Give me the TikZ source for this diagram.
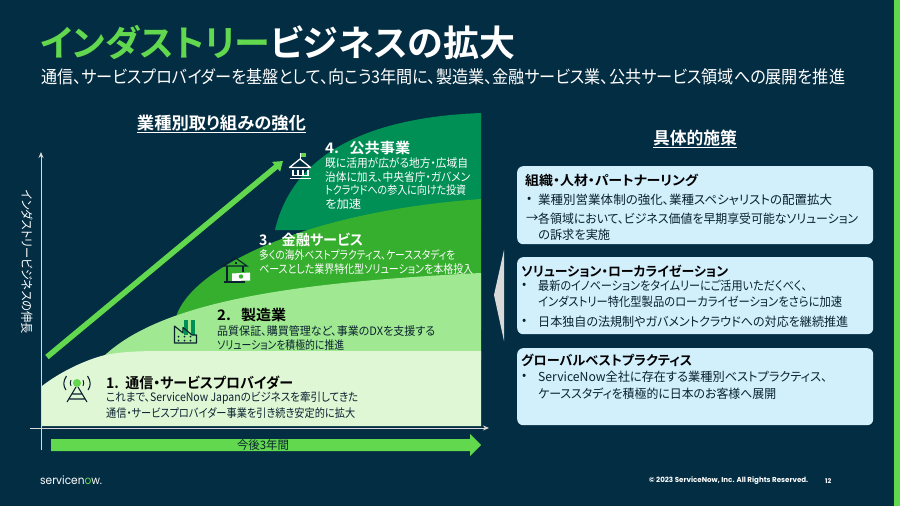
\documentclass[tikz,border=0pt]{standalone}
\usepackage{fontspec}
\usepackage{graphicx}
\setmainfont[BoldFont={Noto Sans CJK JP Bold},RawFeature=+palt]{Noto Sans CJK JP}
\newfontfamily\latinfont{Poppins}
\newcommand{\fitw}[2]{\resizebox{#1pt}{\height}{#2}}
\definecolor{bgnavy}{HTML}{032D42}
\definecolor{sngreen}{HTML}{62D84E}
\definecolor{lay1}{HTML}{E0F7D6}
\definecolor{lay2}{HTML}{A0E891}
\definecolor{lay3}{HTML}{36AE2E}
\definecolor{lay4}{HTML}{008F55}
\definecolor{boxblue}{HTML}{D2EFFC}
\definecolor{inkdark}{HTML}{0A2230}
\definecolor{axisgray}{HTML}{D9D9D9}
\usetikzlibrary{arrows.meta}
\tikzset{
  lbl/.style={inner sep=0pt,anchor=west,font=\fontsize{11.6}{13}\selectfont,text=white},
  lblhead/.style={lbl,font=\bfseries\fontsize{14.5}{16}\selectfont},
  darklbl/.style={lbl,text=inkdark},
  darkhead/.style={lblhead,text=black},
  boxtxt/.style={lbl,text=inkdark,font=\fontsize{12.4}{14}\selectfont},
  boxhead/.style={lbl,text=black,font=\bfseries\fontsize{13.2}{15}\selectfont},
  infobox/.style={fill=boxblue,rounded corners=6pt,draw=none},
  iconline/.style={draw=inkdark,line width=1.1pt,fill=none},
  axisline/.style={draw=axisgray,line width=1pt,-{Stealth[length=6pt,width=5pt]}},
}
\begin{document}
\begin{tikzpicture}[x=1pt,y=-1pt]
\useasboundingbox (0,0) rectangle (900,506);
\fill[bgnavy] (0,0) rectangle (900,506);
\fill[sngreen] (894,0) rectangle (900,506);
% layers
\fill[lay4] (275,230) .. controls (290,165) and (350,118) .. (481,113) -- (481,230) -- cycle;
\fill[lay3] (176,317) .. controls (190,270) and (300,212) .. (481,199) -- (481,330) -- (176,330) -- cycle;
\fill[lay2] (105,355) .. controls (165,300) and (300,282) .. (481,273) -- (481,360) -- (105,360) -- cycle;
\fill[lay1] (42,386) .. controls (60,372) and (85,360) .. (105,355) .. controls (120,352) and (135,351) .. (165,351) -- (481,351) -- (481,426) -- (42,426) -- cycle;
% axes
\coordinate (yaxS) at (41,450); \coordinate (yaxE) at (41,152);
\coordinate (xaxS) at (30,428); \coordinate (xaxE) at (489,428);
\draw[axisline] (yaxS) -- (yaxE);
\draw[axisline] (xaxS) -- (xaxE);
% growth arrow
\coordinate (grS) at (47,357); \coordinate (grE) at (283,161);
\draw[sngreen,line width=5.5pt,-{Triangle[length=9pt,width=12pt]}] (grS) -- (grE);
% time arrow
\fill[sngreen] (51,439) -- (470,439) -- (470,434) -- (481,445) -- (470,456) -- (470,451) -- (51,451) -- cycle;
\node[lbl,anchor=center,text=inkdark] (timelbl) at (263,445) {\fitw{52}{今後3年間}};
% titles
\node[lbl,font=\bfseries\fontsize{36}{40}\selectfont] (title) at (40,43) {\textcolor{sngreen}{インダストリー}ビジネスの拡大};
\node[lbl,font=\fontsize{17.5}{20}\selectfont] (subtitle) at (41,77) {\fitw{804}{通信、サービスプロバイダーを基盤として、向こう3年間に、製造業、金融サービス業、公共サービス領域への展開を推進}};
\node[lbl,anchor=center,font=\bfseries\fontsize{17}{18}\selectfont] (lefthead) at (221.5,124) {\underline{\fitw{169}{業種別取り組みの強化}}};
\node[lbl,anchor=center,font=\bfseries\fontsize{17}{18}\selectfont] (righthead) at (695,139) {\underline{\fitw{84}{具体的施策}}};
\node[lbl,anchor=center,rotate=-90,font=\fontsize{12.5}{14}\selectfont] (ylabel) at (27,262) {\fitw{144}{インダストリービジネスの伸長}};
% layer text
\node[lblhead] (h4) at (325,148) {\fitw{85}{4.\ \ \ 公共事業}};
\node[lbl] (b41) at (325,163) {\fitw{143}{既に活用が広がる地方・広域自}};
\node[lbl] (b42) at (325,177) {\fitw{145}{治体に加え、中央省庁・ガバメン}};
\node[lbl] (b43) at (325,190) {\fitw{141}{トクラウドへの参入に向けた投資}};
\node[lbl] (b44) at (325,204) {\fitw{36}{を加速}};
\node[lblhead] (h3) at (259,240) {\fitw{104}{3.\ \ \ 金融サービス}};
\node[lbl] (b31) at (259,255) {\fitw{196}{多くの海外ベストプラクティス、ケーススタディを}};
\node[lbl] (b32) at (259,269) {\fitw{214}{ベースとした業界特化型ソリューションを本格投入}};
\node[darkhead] (h2) at (217,315) {\fitw{69}{2.\ \ \ 製造業}};
\node[darklbl] (b21) at (217,331) {\fitw{218}{品質保証、購買管理など、事業のDXを支援する}};
\node[darklbl] (b22) at (217,345) {\fitw{127}{ソリューションを積極的に推進}};
\node[darkhead] (h1) at (106,383) {\fitw{187}{1.\ \ 通信・サービスプロバイダー}};
\node[darklbl] (b11) at (106,398) {\fitw{252}{これまで、ServiceNow Japanのビジネスを牽引してきた}};
\node[darklbl] (b12) at (106,413) {\fitw{249}{通信・サービスプロバイダー事業を引き続き安定的に拡大}};
% bank icon
\draw[white,line width=1.3pt,line join=round] (289.5,167.5) -- (300,159) -- (310.5,167.5) -- cycle;
\draw[white,line width=1.3pt] (293,169.5) -- (293,175.5) (298,169.5) -- (298,175.5) (303,169.5) -- (303,175.5) (308,169.5) -- (308,175.5);
\draw[white,line width=1.3pt] (292,175.5) -- (309,175.5) (289.5,178.5) -- (311,178.5);
\draw[white,line width=.8pt] (300.5,159) -- (300.5,153);
\fill[sngreen] (301,153) -- (306,153) -- (306,157) -- (301,157) -- cycle;
% house icon
\draw[iconline] (223,266) -- (235,257.5) -- (247,266) -- cycle;
\draw[iconline] (227,266) -- (227,282);
\draw[iconline] (224,282) -- (245,282);
\draw[iconline] (243,266) -- (243,272);
\fill[white] (232,273.5) -- (250,272.5) -- (250,280.5) -- (232,281) -- cycle;
\fill[lay3] (241,276.5) circle (2.2pt);
\fill[inkdark] (234.5,261.5) rectangle (236.5,263.5);
% factory icon
\fill[lay4] (184,320) rectangle (188,335);
\fill[lay4] (191,320) rectangle (195,335);
\draw[iconline,line join=round] (174.5,343) -- (174.5,326) -- (183,333) -- (183,327.5) -- (192,335) -- (196.5,335) -- (196.5,343) -- cycle;
\foreach \dx in {178.5,184.5,190.5} {\fill[inkdark] (\dx,336.5) circle (1pt); \fill[inkdark] (\dx,340.5) circle (1pt);}
% tower icon
\fill[sngreen] (77,383) circle (4pt);
\draw[iconline] (76,387) -- (67,402) (78,387) -- (87,402) (72.5,394) -- (81.5,394) (69.5,399) -- (84.5,399);
\draw[iconline] (66.5,376) .. controls (63,381) and (63,386) .. (66,390);
\draw[iconline] (87.5,376) .. controls (91,381) and (91,386) .. (88,390);
\draw[iconline,line width=.9pt] (71,380) .. controls (70,382) and (70,384) .. (71,386);
\draw[iconline,line width=.9pt] (83,380) .. controls (84,382) and (84,384) .. (83,386);
% chevron
\fill[axisgray] (504,250) -- (494,295) -- (504,341) -- cycle;
% boxes
\node[infobox,anchor=north west,minimum width=356pt,minimum height=78pt,inner sep=0pt] (box1) at (517,166) {};
\node[infobox,anchor=north west,minimum width=356pt,minimum height=77pt,inner sep=0pt] (box2) at (517,257) {};
\node[infobox,anchor=north west,minimum width=356pt,minimum height=77pt,inner sep=0pt] (box3) at (517,348) {};
\node[boxhead] (t1) at (525,180) {\fitw{173}{組織・人材・パートナーリング}};
\node[boxtxt] (t1b) at (527,200) {•};
\node[boxtxt] (t11) at (538,200) {\fitw{294}{業種別営業体制の強化、業種スペシャリストの配置拡大}};
\node[boxtxt] (t1a) at (526,219) {→};
\node[boxtxt] (t12) at (538,219) {\fitw{320}{各領域において、ビジネス価値を早期享受可能なソリューション}};
\node[boxtxt] (t13) at (538,235) {\fitw{72}{の訴求を実施}};
\node[boxhead] (t2) at (521,271) {\fitw{207}{ソリューション・ローカライゼーション}};
\node[boxtxt] (t2b) at (522,286) {•};
\node[boxtxt] (t21) at (538,286) {\fitw{269}{最新のイノベーションをタイムリーにご活用いただくべく、}};
\node[boxtxt] (t22) at (538,302) {\fitw{304}{インダストリー特化型製品のローカライゼーションをさらに加速}};
\node[boxtxt] (t2c) at (522,322) {•};
\node[boxtxt] (t23) at (538,322) {\fitw{310}{日本独自の法規制やガバメントクラウドへの対応を継続推進}};
\node[boxhead] (t3) at (521,360) {\fitw{171}{グローバルベストプラクティス}};
\node[boxtxt] (t3b) at (522,377) {•};
\node[boxtxt] (t31) at (538,377) {\fitw{289}{ServiceNow全社に存在する業種別ベストプラクティス、}};
\node[boxtxt] (t32) at (538,394) {\fitw{238}{ケーススタディを積極的に日本のお客様へ展開}};
% footer
\node[lbl,font=\latinfont\fontsize{11.5}{13}\selectfont] (logo) at (40,480) {\fitw{62}{servicen\textcolor{sngreen}{o}w.}};
\node[lbl,font=\latinfont\bfseries\fontsize{7.2}{9}\selectfont] (copy) at (649,481) {\fitw{159}{© 2023 ServiceNow, Inc. All Rights Reserved.}};
\node[lbl,font=\latinfont\bfseries\fontsize{6.5}{9}\selectfont] (page) at (825,481) {12};
\end{tikzpicture}
\end{document}
